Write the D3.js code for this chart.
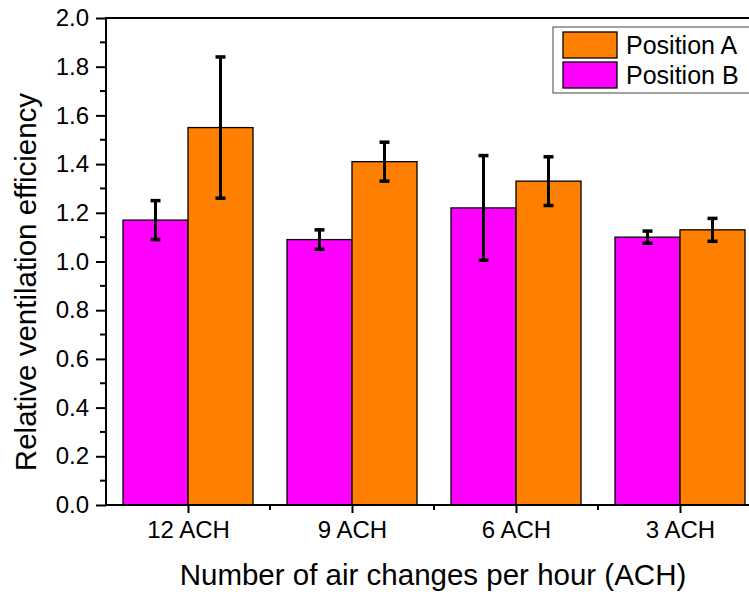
<!DOCTYPE html>
<html>
<head>
	<title>Ventilation efficiency</title>
	<script src="https://cdn.jsdelivr.net/npm/d3@7"></script>
	<style>
		body { margin: 0; background: #fff; }
		svg { display: block; font-family: "Liberation Sans", Arial, sans-serif; }
	</style>
</head>
<body>
	<script>
		// DATA
		var categories = ["12 ACH", "9 ACH", "6 ACH", "3 ACH"];
		var seriesNames = ["Position B", "Position A"];
		var posA = [1.55, 1.41, 1.33, 1.13];
		var errA = [0.29, 0.08, 0.10, 0.047];
		var posB = [1.17, 1.09, 1.22, 1.10];
		var errB = [0.08, 0.04, 0.215, 0.025];
		var yTicks = [0, 0.2, 0.4, 0.6, 0.8, 1.0, 1.2, 1.4, 1.6, 1.8, 2.0];
		var yMinor = [0.1, 0.3, 0.5, 0.7, 0.9, 1.1, 1.3, 1.5, 1.7, 1.9];

		var colors = {"Position A": "#ff8000", "Position B": "#ff00ff"};
		var values = {"Position A": posA, "Position B": posB};
		var errors = {"Position A": errA, "Position B": errB};

		// SET UP SVG
		var width = 749, height = 594;
		var mLeft = 106, mRight = 762, mTop = 18, mBottom = 505;
		var svg = d3.select("body").append("svg")
			.attr("width", width)
			.attr("height", height);

		var x0 = d3.scaleBand().domain(categories).range([mLeft, mRight])
			.paddingInner(34 / 164).paddingOuter(17 / 164);
		var x1 = d3.scaleBand().domain(seriesNames).range([0, x0.bandwidth()]);
		var y = d3.scaleLinear().domain([0, 2]).range([mBottom, mTop]);
		var xCenter = function(c) { return x0(c) + x0.bandwidth() / 2; };

		function rows(c, i) {
			return seriesNames.map(function(s) { return {s: s, v: values[s][i], e: errors[s][i]}; });
		}

		// bars
		var groups = svg.selectAll(".grp").data(categories).enter().append("g")
			.attr("class", "grp")
			.attr("transform", function(c) { return "translate(" + x0(c) + ",0)"; });

		groups.selectAll("rect").data(rows).enter().append("rect")
			.attr("x", function(d) { return x1(d.s); })
			.attr("y", function(d) { return y(d.v); })
			.attr("width", x1.bandwidth())
			.attr("height", function(d) { return y(0) - y(d.v); })
			.attr("fill", function(d) { return colors[d.s]; })
			.attr("stroke", "#000").attr("stroke-width", 1.3);

		// error bars
		var eb = groups.selectAll(".eb").data(rows).enter().append("g").attr("class", "eb")
			.attr("transform", function(d) { return "translate(" + (x1(d.s) + x1.bandwidth() / 2) + ",0)"; });
		eb.append("line")
			.attr("y1", function(d) { return y(d.v + d.e); })
			.attr("y2", function(d) { return y(d.v - d.e); })
			.attr("stroke", "#000").attr("stroke-width", 3);
		eb.selectAll(".cap").data(function(d) { return [d.v + d.e, d.v - d.e]; }).enter().append("line")
			.attr("x1", -5).attr("x2", 5)
			.attr("y1", function(v) { return y(v); })
			.attr("y2", function(v) { return y(v); })
			.attr("stroke", "#000").attr("stroke-width", 3.5);

		// frame
		svg.append("rect").attr("x", mLeft).attr("y", mTop)
			.attr("width", mRight - mLeft).attr("height", mBottom - mTop)
			.attr("fill", "none").attr("stroke", "#000").attr("stroke-width", 2);

		// y axis
		var yAxis = svg.append("g").attr("transform", "translate(" + mLeft + ",0)")
			.call(d3.axisLeft(y).tickValues(yTicks).tickFormat(d3.format(".1f")).tickSize(10).tickPadding(7));
		yAxis.select(".domain").remove();
		yAxis.selectAll("line").attr("stroke-width", 2);
		yAxis.selectAll("text").style("font-size", "24px").attr("fill", "#000");
		svg.append("g").attr("transform", "translate(" + mLeft + ",0)")
			.selectAll("line").data(yMinor).enter().append("line")
			.attr("x1", -6).attr("x2", 0)
			.attr("y1", function(v) { return y(v); }).attr("y2", function(v) { return y(v); })
			.attr("stroke", "#000").attr("stroke-width", 2);

		// x axis
		var xAxis = svg.append("g").attr("transform", "translate(0," + mBottom + ")")
			.call(d3.axisBottom(d3.scalePoint().domain(categories).range([xCenter(categories[0]), xCenter(categories[3])]))
				.tickSize(8).tickPadding(8));
		xAxis.select(".domain").remove();
		xAxis.selectAll("line").attr("stroke-width", 2);
		xAxis.selectAll("text").style("font-size", "24px").attr("fill", "#000");
		svg.append("g").attr("transform", "translate(0," + mBottom + ")")
			.selectAll("line").data(categories.slice(1)).enter().append("line")
			.attr("x1", function(c) { return x0(c) - (x0.step() - x0.bandwidth()) / 2; })
			.attr("x2", function(c) { return x0(c) - (x0.step() - x0.bandwidth()) / 2; })
			.attr("y1", 0).attr("y2", 5)
			.attr("stroke", "#000").attr("stroke-width", 2);

		// axis titles
		svg.append("text").attr("x", 433).attr("y", 585)
			.attr("text-anchor", "middle").style("font-size", "29.5px")
			.text("Number of air changes per hour (ACH)");
		svg.append("text").attr("transform", "translate(36,282) rotate(-90)")
			.attr("text-anchor", "middle").style("font-size", "29.5px")
			.text("Relative ventilation efficiency");

		// legend
		var legend = svg.append("g");
		legend.append("rect").attr("x", 553).attr("y", 27).attr("width", 220).attr("height", 66)
			.attr("fill", "#fff").attr("stroke", "#444").attr("stroke-width", 1);
		var items = legend.selectAll(".li").data(["Position A", "Position B"]).enter().append("g")
			.attr("transform", function(d, i) { return "translate(563," + (32 + i * 30) + ")"; });
		items.append("rect").attr("width", 54).attr("height", 26)
			.attr("fill", function(d) { return colors[d]; })
			.attr("stroke", "#000").attr("stroke-width", 1.3);
		items.append("text").attr("x", 63).attr("y", 22)
			.style("font-size", "25px").text(function(d) { return d; });
	</script>
</body>
</html>
